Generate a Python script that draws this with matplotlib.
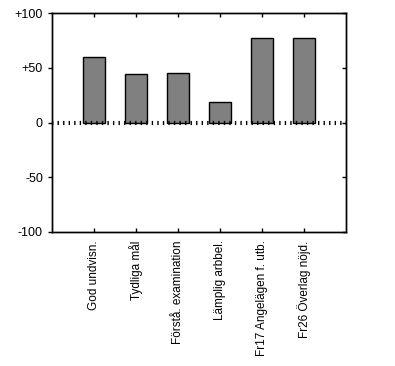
import matplotlib
matplotlib.use("Agg")
import matplotlib.pyplot as plt

categories = ["God undvisn.", "Tydliga mål", "Förstå. examination",
              "Lämplig arbbel.", "Fr17 Angelägen f. utb.", "Fr26 Överlag nöjd."]
values = [60, 44, 45, 19, 77, 77]
yticks = [-100, -50, 0, 50, 100]
ytick_labels = ["-100", "-50", "0", "+50", "+100"]

plt.rcParams['font.family'] = ['Liberation Sans', 'DejaVu Sans']
fig = plt.figure(figsize=(3.95, 3.66), dpi=100)
ax = fig.add_axes([52/395, 1-232/366, 294/395, 219/366])

pos = list(range(1, len(categories) + 1))
ax.bar(pos, values, width=0.52, color='#808080', edgecolor='black', linewidth=1, zorder=2)
ax.axhline(0, color='black', lw=3, linestyle=(0, (0.33, 1.0)), dash_capstyle='butt', zorder=3)

ax.set_xlim(0, 7)
ax.set_ylim(-100, 100)
ax.set_yticks(yticks)
ax.set_yticklabels(ytick_labels, fontsize=9)
ax.set_xticks(pos)
ax.set_xticklabels(categories, rotation=90, fontsize=8.5, va='top', ha='center')
ax.tick_params(axis='y', direction='out', length=3, width=1, left=True, right=False, pad=3.5)
ax.tick_params(axis='x', direction='in', length=3, width=1, top=True, bottom=True, pad=6)

ax2 = ax.twinx()
ax2.set_ylim(-100, 100)
ax2.set_yticks(yticks)
ax2.set_yticklabels([])
ax2.tick_params(axis='y', direction='in', length=3, width=1)

for a in (ax, ax2):
    for s in a.spines.values():
        s.set_linewidth(1)
        s.set_color('black')

fig.savefig("out.png", dpi=100)
